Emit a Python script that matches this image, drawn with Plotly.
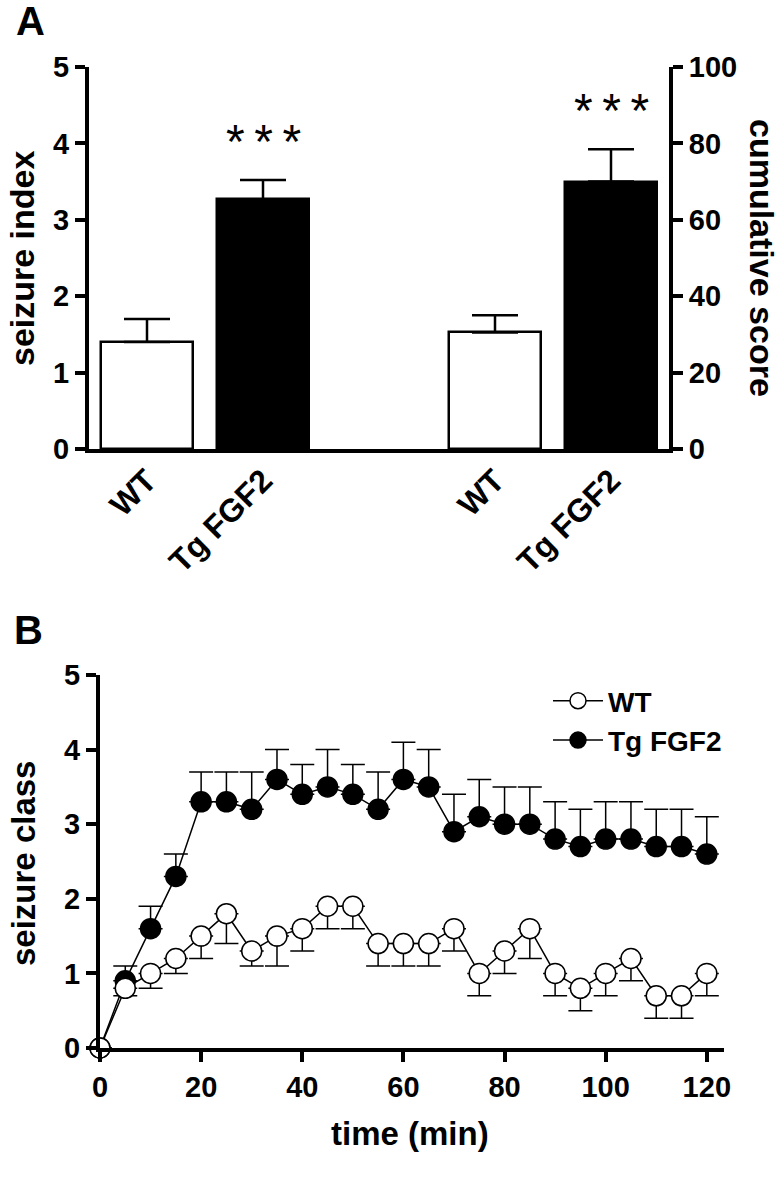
import plotly.graph_objects as go

# ---------------- data ----------------
# Panel A
categories = ["WT", "Tg FGF2"]
seizure_index = [1.4, 3.27]
seizure_index_sem = [0.3, 0.25]
cumulative_score = [30.5, 70.0]
cumulative_score_sem = [4.5, 8.5]
significance = ["", "*\u2009*\u2009*"]

# Panel B
time_min = [0, 5, 10, 15, 20, 25, 30, 35, 40, 45, 50, 55, 60,
            65, 70, 75, 80, 85, 90, 95, 100, 105, 110, 115, 120]
wt_class = [0, 0.8, 1.0, 1.2, 1.5, 1.8, 1.3, 1.5, 1.6, 1.9, 1.9, 1.4, 1.4,
            1.4, 1.6, 1.0, 1.3, 1.6, 1.0, 0.8, 1.0, 1.2, 0.7, 0.7, 1.0]
wt_sem = [0, 0.1, 0.2, 0.2, 0.3, 0.4, 0.2, 0.4, 0.3, 0.3, 0.3, 0.3, 0.3,
          0.3, 0.3, 0.3, 0.3, 0.4, 0.3, 0.3, 0.3, 0.3, 0.3, 0.3, 0.3]
tg_class = [0, 0.9, 1.6, 2.3, 3.3, 3.3, 3.2, 3.6, 3.4, 3.5, 3.4, 3.2, 3.6,
            3.5, 2.9, 3.1, 3.0, 3.0, 2.8, 2.7, 2.8, 2.8, 2.7, 2.7, 2.6]
tg_sem = [0, 0.2, 0.3, 0.3, 0.4, 0.4, 0.5, 0.4, 0.4, 0.5, 0.4, 0.5, 0.5,
          0.5, 0.5, 0.5, 0.5, 0.5, 0.5, 0.5, 0.5, 0.5, 0.5, 0.5, 0.5]

# ---------------- styling ----------------
FONT = "Liberation Sans, Arial, Helvetica, sans-serif"
W, H = 784, 1200
bar_fill = ["white", "black"]

def px_x(p):
    return p / W

def px_y(p):
    return 1 - p / H

# bar positions: two groups with a gap between them
pos_a = [g * 3 + i + 1 for g in range(2) for i in range(len(categories))]
pos_left = pos_a[:2]
pos_right = pos_a[2:]

fig = go.Figure()

bar_common = dict(width=0.8, marker_line_color="black", marker_line_width=2.5,
                  showlegend=False, hoverinfo="skip")

fig.add_trace(go.Bar(
    x=pos_left, y=seizure_index, xaxis="x", yaxis="y",
    marker_color=bar_fill,
    error_y=dict(type="data", symmetric=False, array=seizure_index_sem,
                 arrayminus=[0] * len(categories), color="black",
                 thickness=2.5, width=23),
    **bar_common))

fig.add_trace(go.Bar(
    x=pos_right, y=cumulative_score, xaxis="x", yaxis="y2",
    marker_color=bar_fill,
    error_y=dict(type="data", symmetric=False, array=cumulative_score_sem,
                 arrayminus=[0] * len(categories), color="black",
                 thickness=2.5, width=23),
    **bar_common))

# Panel B traces (Tg first so WT open circles sit on top)
fig.add_trace(go.Scatter(
    x=time_min, y=tg_class, xaxis="x3", yaxis="y3", name="Tg FGF2",
    mode="lines+markers", legendrank=2, cliponaxis=False,
    line=dict(color="black", width=1.5),
    marker=dict(symbol="circle", size=20, color="black",
                line=dict(color="black", width=1.5)),
    error_y=dict(type="data", symmetric=False, array=tg_sem,
                 arrayminus=[0] * len(tg_sem), color="black",
                 thickness=1.5, width=12)))

fig.add_trace(go.Scatter(
    x=time_min, y=wt_class, xaxis="x3", yaxis="y3", name="WT",
    mode="lines+markers", legendrank=1, cliponaxis=False,
    line=dict(color="black", width=1.5),
    marker=dict(symbol="circle", size=20, color="white",
                line=dict(color="black", width=1.5)),
    error_y=dict(type="data", symmetric=False, array=[0] * len(wt_sem),
                 arrayminus=wt_sem, color="black",
                 thickness=1.5, width=12)))

axis_common = dict(showline=True, linecolor="black", linewidth=4,
                   showgrid=False, zeroline=False, automargin=False,
                   ticks="outside", ticklen=10, tickwidth=4, tickcolor="black")
tickfont_a = dict(family=FONT, size=29, color="black", weight="bold")
tickfont_b = dict(family=FONT, size=29, color="black", weight="bold")

fig.update_layout(
    width=W, height=H, margin=dict(l=0, r=0, t=0, b=0),
    paper_bgcolor="white", plot_bgcolor="white",
    bargap=0,
    xaxis=dict(domain=[px_x(89), px_x(669)], range=[0.5, 5.5], anchor="y",
               showline=True, linecolor="black", linewidth=4, showgrid=False,
               zeroline=False, automargin=False, ticks="",
               tickvals=pos_a, ticktext=categories * 2, tickangle=-45,
               ticklabelstandoff=-4,
               tickfont=dict(family=FONT, size=32, color="black", weight="bold")),
    yaxis=dict(domain=[px_y(449), px_y(67)], range=[0, 5], dtick=1,
               anchor="x", tickfont=tickfont_a, **axis_common),
    yaxis2=dict(range=[0, 100], dtick=20, overlaying="y", side="right",
                anchor="x", tickfont=tickfont_a, **axis_common),
    xaxis3=dict(domain=[px_x(100), px_x(724)], range=[0, 123.4],
                tickvals=[0, 20, 40, 60, 80, 100, 120], anchor="y3",
                tickfont=tickfont_b, **axis_common),
    yaxis3=dict(domain=[px_y(1048), px_y(675)], range=[0, 5], dtick=1,
                anchor="x3", tickfont=tickfont_b, **axis_common),
    legend=dict(x=px_x(548), y=px_y(676), xanchor="left", yanchor="top",
                bgcolor="rgba(0,0,0,0)", itemwidth=50,
                font=dict(family=FONT, size=28, color="black", weight="bold"),
                tracegroupgap=4),
)

title_a = dict(family=FONT, size=34, color="black", weight="bold")
title_b = dict(family=FONT, size=33, color="black", weight="bold")
panel_font = dict(family=FONT, size=40, color="black", weight="bold")
anno_common = dict(xref="paper", yref="paper", showarrow=False,
                   xanchor="center", yanchor="middle")
annotations = [
    dict(text="A", x=px_x(30), y=px_y(21), font=panel_font, **anno_common),
    dict(text="B", x=px_x(28), y=px_y(630), font=panel_font, **anno_common),
    dict(text="seizure index", x=px_x(22), y=px_y(258), textangle=-90,
         font=title_a, **anno_common),
    dict(text="cumulative score", x=px_x(762), y=px_y(258), textangle=90,
         font=title_a, **anno_common),
    dict(text="seizure class", x=px_x(23), y=px_y(864), textangle=-90,
         font=title_b, **anno_common),
    dict(text="time (min)", x=px_x(410), y=px_y(1133), font=title_b, **anno_common),
]
# significance stars above Tg bars
star_font = dict(family=FONT, size=48, color="black")
for i, s in enumerate(significance):
    if s:
        annotations.append(dict(text=s, x=pos_left[i], xref="x", yref="y",
                                y=seizure_index[i] + seizure_index_sem[i] + 0.5,
                                showarrow=False, xanchor="center", yanchor="middle",
                                font=star_font))
        annotations.append(dict(text=s, x=pos_right[i], xref="x", yref="y2",
                                y=cumulative_score[i] + cumulative_score_sem[i] + 10,
                                showarrow=False, xanchor="center", yanchor="middle",
                                font=star_font))
fig.update_layout(annotations=annotations)

fig.write_html("out.html", config={"displayModeBar": False},
               post_script="document.body.style.margin='0';document.body.style.padding='0';")
